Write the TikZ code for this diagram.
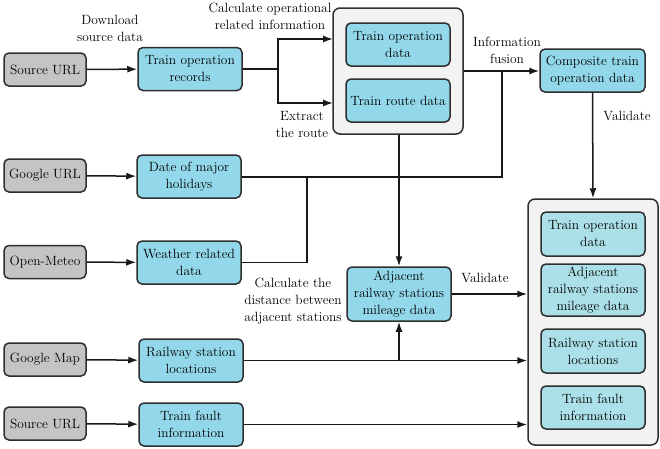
\documentclass[tikz,border=0pt]{standalone}
\usetikzlibrary{arrows.meta}
\definecolor{srcgray}{HTML}{C4C4C4}
\definecolor{dblue}{HTML}{93D8EA}
\definecolor{lblue}{HTML}{ACE0E8}
\definecolor{contfill}{HTML}{F2F2F2}
\definecolor{edge}{HTML}{2E2E2E}
\tikzset{
  base/.style={draw=edge, line width=1.5pt, rounded corners=5pt, align=center, inner sep=1pt,
    font=\fontsize{13.4}{17}\selectfont},
  srcbox/.style={base, fill=srcgray, minimum width=82pt, minimum height=33pt},
  databox/.style={base, fill=dblue, minimum width=104pt, minimum height=43pt},
  innerbox/.style={base, fill=lblue, minimum width=104pt, minimum height=43pt},
  contbox/.style={draw=edge, line width=1.5pt, rounded corners=7pt, fill=contfill, minimum width=130pt},
  lbl/.style={align=center, font=\fontsize{13.4}{17}\selectfont, inner sep=0pt},
  conn/.style={line width=1.5pt, draw=black!90},
  arr/.style={conn, -{Latex[length=10pt,width=7pt]}}
}
\begin{document}
\begin{tikzpicture}[x=1pt,y=-1pt]
\useasboundingbox (0,0) rectangle (660,448);
% containers
\node[contbox, minimum height=126pt] (cont1) at (398,71) {};
\node[contbox, minimum height=246pt] (cont2) at (593,322) {};
% left sources
\node[srcbox] (src1) at (45,69.5) {Source URL};
\node[srcbox] (gurl) at (45,175.5) {Google URL};
\node[srcbox] (om) at (45,262) {Open-Meteo};
\node[srcbox] (gmap) at (45,359.5) {Google Map};
\node[srcbox] (src2) at (45,423.5) {Source URL};
% data boxes
\node[databox] (rec) at (190,69) {Train operation\\records};
\node[databox] (hol) at (189,176.5) {Date of major\\holidays};
\node[databox] (wea) at (189,262.5) {Weather related\\data};
\node[databox] (rsl) at (191,360.5) {Railway station\\locations};
\node[databox] (tfi) at (191,424.5) {Train fault\\information};
\node[databox] (tod1) at (398,44.5) {Train operation\\data};
\node[databox] (trd) at (398,100.5) {Train route data};
\node[databox, minimum width=105pt] (comp) at (592.5,70.5) {Composite train\\operation data};
\node[databox, minimum height=54pt] (adj) at (399,294) {Adjacent\\railway stations\\mileage data};
% container 2 inner
\node[innerbox, minimum height=44pt] (i1) at (593,234) {Train operation\\data};
\node[innerbox, minimum height=52pt] (i2) at (593,290) {Adjacent\\railway stations\\mileage data};
\node[innerbox, minimum height=44pt] (i3) at (593,351) {Railway station\\locations};
\node[innerbox] (i4) at (593,407.5) {Train fault\\information};
% labels
\node[lbl] (l1) at (110,28) {Download\\source data};
\node[lbl] (l2) at (270,16) {Calculate operational\\related information};
\node[lbl] (l3) at (302,124) {Extract\\the route};
\node[lbl] (l4) at (507,50) {Information\\fusion};
\node[lbl] (l5) at (627,116) {Validate};
\node[lbl] (l6) at (293,301) {Calculate the\\distance between\\adjacent stations};
\node[lbl] (l7) at (485,278) {Validate};
% junction coordinates
\coordinate (j1) at (278,69);
\coordinate (c1a) at (333,39);
\coordinate (c1b) at (333,103);
\coordinate (j2) at (502,71);
\coordinate (j3) at (307,177);
\coordinate (j4) at (399,361);
% connectors
\draw[arr] (src1) -- (rec);
\draw[arr] (gurl) -- (hol);
\draw[arr] (om) -- (wea);
\draw[arr] (gmap) -- (rsl);
\draw[arr] (src2) -- (tfi);
\draw[conn] (rec.east) -- (j1);
\draw[arr] (j1) |- (c1a);
\draw[arr] (j1) |- (c1b);
\draw[arr] (cont1.east |- j2) -- (comp.west |- j2);
\draw[conn] (hol.east |- j3) -| (j2);
\draw[conn] (wea.east) -| (j3);
\draw[arr] (cont1.south -| adj.north) -- (adj.north);
\draw[arr] (comp.south) -- (cont2.north);
\draw[arr] (adj.east) -- (cont2.west |- adj.east);
\draw[arr] (rsl.east) -- (cont2.west |- rsl.east);
\draw[arr] (j4) -- (adj.south);
\draw[arr] (tfi.east) -- (cont2.west |- tfi.east);
\end{tikzpicture}
\end{document}
